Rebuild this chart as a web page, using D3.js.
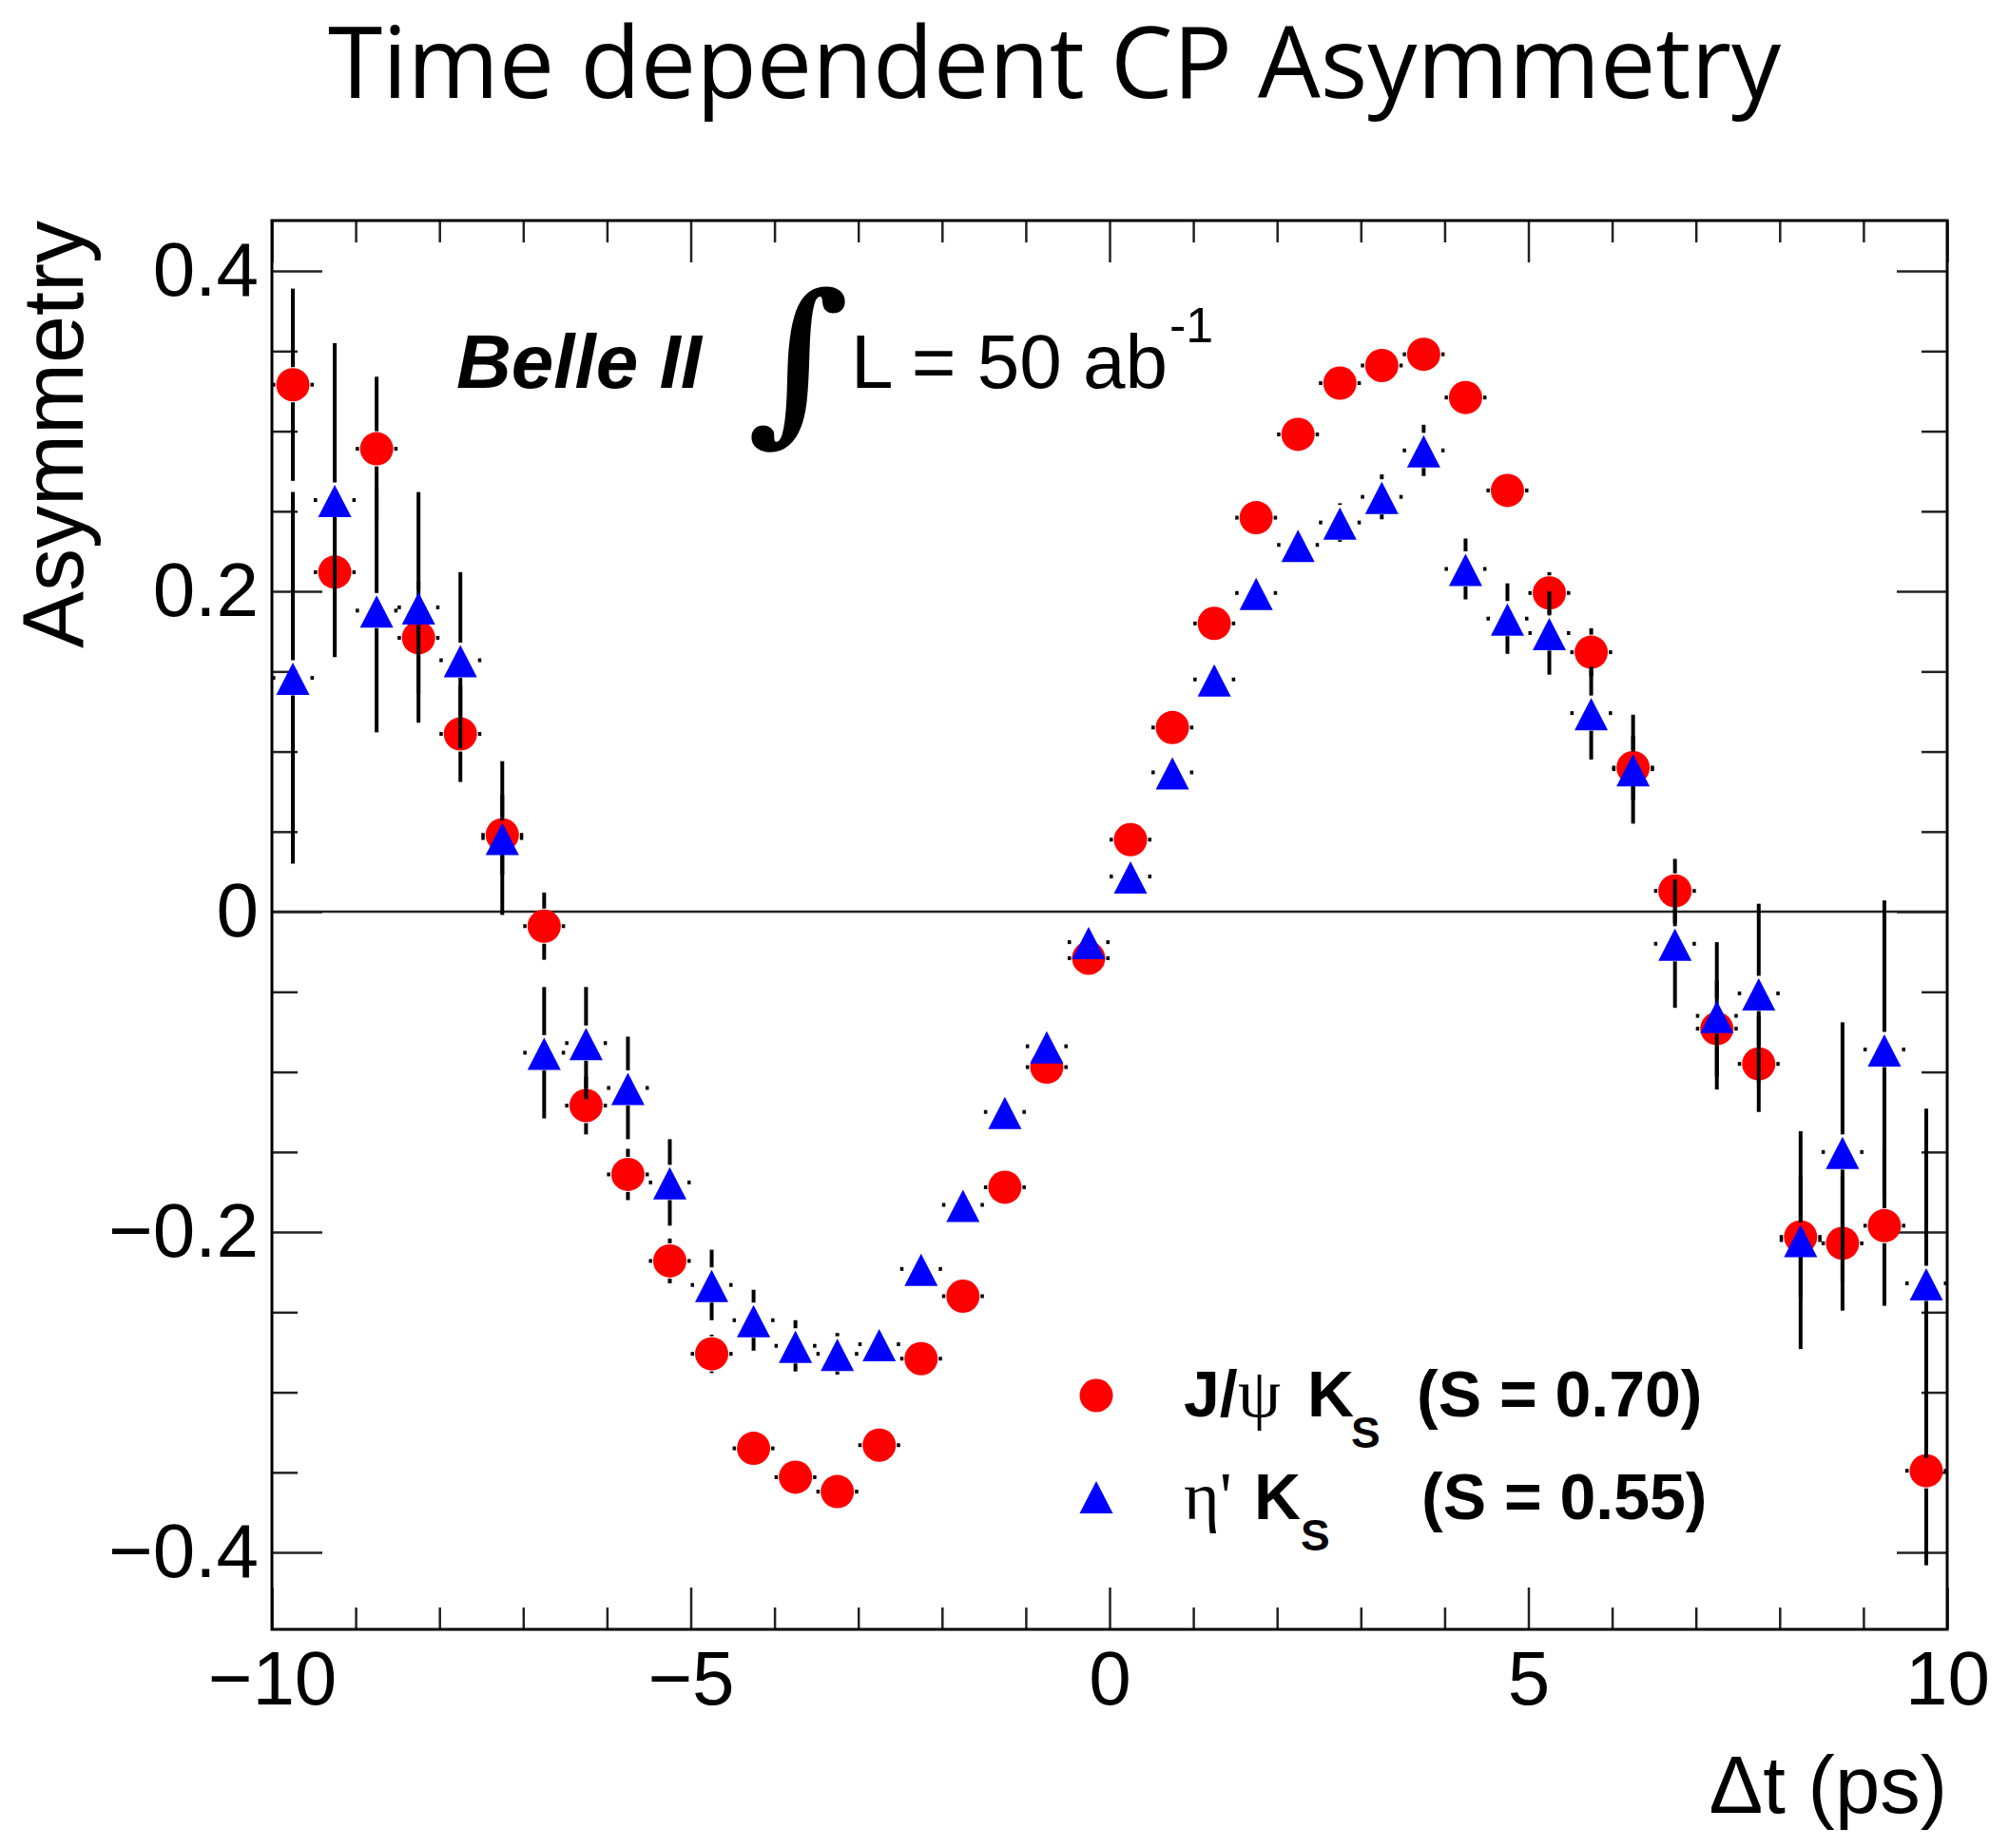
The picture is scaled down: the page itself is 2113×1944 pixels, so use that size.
<!DOCTYPE html>
<html>
<head>
<meta charset="utf-8">
<script src="https://cdn.jsdelivr.net/npm/d3@7"></script>
<style>
  body { margin: 0; background: #fff; }
  svg { display: block; }
</style>
</head>
<body>
<div id="chart"></div>
<script>
// bin centres of delta t (ps)
var binCenters = [-9.75, -9.25, -8.75, -8.25, -7.75, -7.25, -6.75, -6.25, -5.75, -5.25,
                  -4.75, -4.25, -3.75, -3.25, -2.75, -2.25, -1.75, -1.25, -0.75, -0.25,
                   0.25,  0.75,  1.25,  1.75,  2.25,  2.75,  3.25,  3.75,  4.25,  4.75,
                   5.25,  5.75,  6.25,  6.75,  7.25,  7.75,  8.25,  8.75,  9.25,  9.75]
var binHalfWidth = 0.25

// J/psi Ks asymmetry and errors
var jpsiValues = [0.329, 0.212, 0.289, 0.171, 0.111, 0.048, -0.009, -0.121, -0.164, -0.218,
                  -0.276, -0.335, -0.353, -0.362, -0.333, -0.279, -0.240, -0.172, -0.097, -0.029,
                   0.045, 0.115, 0.180, 0.246, 0.298, 0.330, 0.341, 0.348, 0.321, 0.263,
                   0.199, 0.162, 0.090, 0.013, -0.073, -0.095, -0.203, -0.207, -0.196, -0.349]
var jpsiErrors = [0.060, 0.050, 0.045, 0.035, 0.030, 0.025, 0.021, 0.018, 0.016, 0.014,
                  0.012, 0.010, 0.009, 0.008, 0.008, 0.007, 0.007, 0.006, 0.006, 0.006,
                  0.006, 0.006, 0.007, 0.007, 0.008, 0.008, 0.009, 0.010, 0.010, 0.011,
                  0.013, 0.015, 0.020, 0.020, 0.030, 0.030, 0.038, 0.042, 0.050, 0.059]

// eta' Ks asymmetry and errors
var etaValues = [0.146, 0.257, 0.188, 0.190, 0.157, 0.046, -0.088, -0.082, -0.110, -0.169,
                 -0.233, -0.255, -0.271, -0.276, -0.270, -0.223, -0.183, -0.125, -0.084, -0.019,
                  0.022, 0.087, 0.145, 0.199, 0.229, 0.243, 0.259, 0.288, 0.214, 0.183,
                  0.174, 0.124, 0.089, -0.020, -0.065, -0.051, -0.205, -0.150, -0.086, -0.232]
var etaErrors = [0.116, 0.098, 0.076, 0.072, 0.055, 0.048, 0.041, 0.035, 0.032, 0.027,
                 0.022, 0.019, 0.016, 0.013, 0.011, 0.010, 0.010, 0.010, 0.010, 0.010,
                 0.010, 0.010, 0.010, 0.010, 0.011, 0.012, 0.014, 0.016, 0.019, 0.022,
                 0.026, 0.029, 0.034, 0.040, 0.046, 0.056, 0.068, 0.081, 0.093, 0.109]

// axis ticks
var xMajorTicks = [-10, -5, 0, 5, 10]
var xMinorTicks = [-9, -8, -7, -6, -4, -3, -2, -1, 1, 2, 3, 4, 6, 7, 8, 9]
var yMajorTicks = [-0.4, -0.2, 0, 0.2, 0.4]
var yMinorTicks = [-0.35, -0.3, -0.25, -0.15, -0.1, -0.05, 0.05, 0.1, 0.15, 0.25, 0.3, 0.35]

// set the dimensions of the graph
var width = 2113
var height = 1944
var frameLeft = 286, frameRight = 2048, frameTop = 232, frameBottom = 1714

var svg = d3.select("#chart")
    .append("svg")
    .attr("width", width)
    .attr("height", height)

var x = d3.scaleLinear().domain([-10, 10]).range([frameLeft, frameRight])
var y = d3.scaleLinear().domain([-0.448, 0.4315]).range([frameBottom, frameTop])

var labelFont = "'Liberation Sans', Arial, Helvetica, sans-serif"

// title
svg.append("text")
    .attr("x", 1109).attr("y", 103)
    .attr("text-anchor", "middle")
    .style("font-family", "'Open Sans', 'Noto Sans', sans-serif")
    .style("font-size", "104px")
    .text("Time dependent CP Asymmetry")

// zero line
svg.append("line")
    .attr("x1", frameLeft).attr("x2", frameRight)
    .attr("y1", y(0)).attr("y2", y(0))
    .style("stroke", "#222").style("stroke-width", 2.5)

// axes, ticks pointing inside
function styleAxis(g) {
    g.select(".domain").remove()
    g.selectAll(".tick line").style("stroke", "#222").style("stroke-width", 2.5)
    g.selectAll("text").style("font-family", labelFont).style("font-size", "80px").style("fill", "#000")
}

svg.append("g").attr("transform", "translate(0," + frameBottom + ")")
    .call(d3.axisBottom(x).tickValues(xMajorTicks).tickSize(-44).tickPadding(22)
        .tickFormat(d3.format("d")))
    .call(styleAxis)
svg.append("g").attr("transform", "translate(0," + frameBottom + ")")
    .call(d3.axisBottom(x).tickValues(xMinorTicks).tickSize(-23).tickFormat(""))
    .call(styleAxis)
svg.append("g").attr("transform", "translate(0," + frameTop + ")")
    .call(d3.axisTop(x).tickValues(xMajorTicks).tickSize(-44).tickFormat(""))
    .call(styleAxis)
svg.append("g").attr("transform", "translate(0," + frameTop + ")")
    .call(d3.axisTop(x).tickValues(xMinorTicks).tickSize(-23).tickFormat(""))
    .call(styleAxis)

svg.append("g").attr("transform", "translate(" + frameLeft + ",0)")
    .call(d3.axisLeft(y).tickValues(yMajorTicks).tickSize(-53).tickPadding(14)
        .tickFormat(function (d) { return d === 0 ? "0" : d3.format(".1f")(d) }))
    .call(styleAxis)
svg.append("g").attr("transform", "translate(" + frameLeft + ",0)")
    .call(d3.axisLeft(y).tickValues(yMinorTicks).tickSize(-27).tickFormat(""))
    .call(styleAxis)
svg.append("g").attr("transform", "translate(" + frameRight + ",0)")
    .call(d3.axisRight(y).tickValues(yMajorTicks).tickSize(-53).tickFormat(""))
    .call(styleAxis)
svg.append("g").attr("transform", "translate(" + frameRight + ",0)")
    .call(d3.axisRight(y).tickValues(yMinorTicks).tickSize(-27).tickFormat(""))
    .call(styleAxis)

// frame
svg.append("rect")
    .attr("x", frameLeft).attr("y", frameTop)
    .attr("width", frameRight - frameLeft).attr("height", frameBottom - frameTop)
    .style("fill", "none").style("stroke", "#000").style("stroke-width", 3)

// axis titles
svg.append("text")
    .attr("transform", "translate(87," + frameTop + ") rotate(-90)")
    .attr("text-anchor", "end")
    .style("font-family", labelFont).style("font-size", "90px")
    .text("Asymmetry")
svg.append("text")
    .attr("x", frameRight).attr("y", 1907)
    .attr("text-anchor", "end")
    .style("font-family", labelFont).style("font-size", "85px")
    .text("\u0394t (ps)")

// error bars with a gap around the marker, as ROOT draws them
var gap = 18.5
function drawErrors(values, errors) {
    var pts = binCenters.map(function (c, i) { return { c: c, v: values[i], e: errors[i] } })
    var g = svg.append("g").style("stroke", "#000").style("stroke-width", 4)
    pts.forEach(function (d) {
        var cx = x(d.c), cy = y(d.v)
        var yTop = y(d.v + d.e), yBot = y(d.v - d.e)
        if (cy - yTop > gap) g.append("line").attr("x1", cx).attr("x2", cx).attr("y1", yTop).attr("y2", cy - gap)
        if (yBot - cy > gap) g.append("line").attr("x1", cx).attr("x2", cx).attr("y1", cy + gap).attr("y2", yBot)
        var xl = x(d.c - binHalfWidth), xr = x(d.c + binHalfWidth)
        g.append("line").attr("x1", xl).attr("x2", cx - gap).attr("y1", cy).attr("y2", cy)
        g.append("line").attr("x1", cx + gap).attr("x2", xr).attr("y1", cy).attr("y2", cy)
    })
    return pts
}

var triangle = "M0,-16L17.5,18L-17.5,18Z"

var jpsiPts = drawErrors(jpsiValues, jpsiErrors)
svg.append("g").selectAll("circle")
    .data(jpsiPts)
    .enter()
    .append("circle")
    .attr("cx", function (d) { return x(d.c) })
    .attr("cy", function (d) { return y(d.v) })
    .attr("r", 17.5)
    .style("fill", "#ff0000")

var etaPts = drawErrors(etaValues, etaErrors)
svg.append("g").selectAll("path")
    .data(etaPts)
    .enter()
    .append("path")
    .attr("d", triangle)
    .attr("transform", function (d) { return "translate(" + x(d.c) + "," + y(d.v) + ")" })
    .style("fill", "#0000ff")

// Belle II label
svg.append("text")
    .attr("x", 480).attr("y", 408)
    .style("font-family", labelFont).style("font-size", "80px")
    .style("font-weight", "bold").style("font-style", "italic")
    .text("Belle II")
svg.append("text")
    .attr("x", 786).attr("y", 442)
    .style("font-family", "'DejaVu Serif', serif").style("font-size", "185px")
    .style("font-weight", "bold")
    .text("\u222B")
var lumi = svg.append("text")
    .attr("x", 895).attr("y", 408)
    .style("font-family", labelFont).style("font-size", "80px")
lumi.append("tspan").text("L = 50 ab")
lumi.append("tspan").attr("x", 1230).attr("y", 360).style("font-size", "52px").text("-1")

// legend
var legendRows = [
    { y: 1468, base: 1490, particle: "\u03C8", pre: "J/", pX: 1302, k: 1375, sub: 1421, s: "(S = 0.70)", sX: 1490 },
    { y: 1574, base: 1598, particle: "\u03B7'", pre: "", pX: 1245, k: 1319, sub: 1368, s: "(S = 0.55)", sX: 1495 }
]
svg.append("circle").attr("cx", 1153).attr("cy", legendRows[0].y).attr("r", 17.5).style("fill", "#ff0000")
svg.append("path").attr("d", triangle).attr("transform", "translate(1153," + legendRows[1].y + ")").style("fill", "#0000ff")

legendRows.forEach(function (r) {
    var t = svg.append("text")
        .attr("y", r.base)
        .style("font-family", labelFont).style("font-size", "68px").style("font-weight", "bold")
    if (r.pre) t.append("tspan").attr("x", 1245).text(r.pre)
    t.append("tspan").attr("x", r.pX)
        .style("font-family", "'Liberation Serif', 'DejaVu Serif', serif").style("font-weight", "normal")
        .style("font-size", "72px").text(r.particle)
    t.append("tspan").attr("x", r.k).text("K")
    t.append("tspan").attr("x", r.sub).attr("y", r.base + 33).style("font-size", "46px").text("S")
    t.append("tspan").attr("x", r.sX).attr("y", r.base).text(r.s)
})
</script>
</body>
</html>
